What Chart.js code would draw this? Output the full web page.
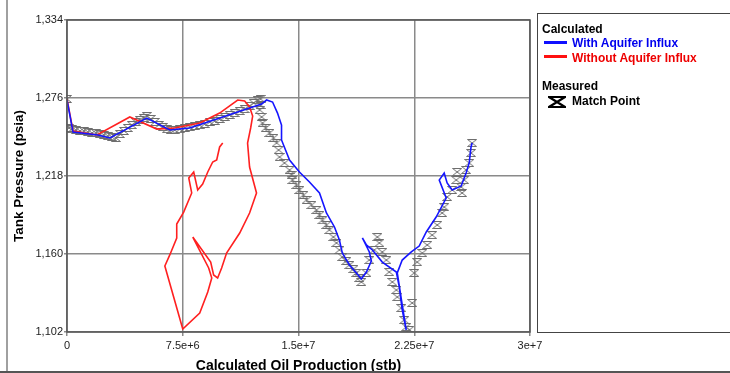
<!DOCTYPE html>
<html>
<head>
<meta charset="utf-8">
<script src="https://cdn.jsdelivr.net/npm/chart.js@4.4.1/dist/chart.umd.min.js"></script>
<style>
body { margin: 0; background: #fff; }
#wrap { position: relative; width: 730px; height: 373px; overflow: hidden; font-family: "Liberation Sans", Arial, sans-serif; }
#frameL { position: absolute; left: 6px; top: 0; width: 2px; height: 373px; background: #a0a0a0; }
#frameB { position: absolute; left: 0; top: 371px; width: 730px; height: 2px; background: #555; }
#legend { position: absolute; left: 537px; top: 13px; width: 200px; height: 320px; border: 1.5px solid #444; box-sizing: border-box; }
#legend div { position: absolute; font-weight: bold; font-size: 12px; line-height: 14px; white-space: nowrap; }
#legend .swatch { height: 3px; width: 23px; }
</style>
</head>
<body>
<div id="wrap">
  <canvas id="tankChart" width="730" height="373"></canvas>
  <div id="frameL"></div>
  <div id="frameB"></div>
  <div id="legend">
    <div style="left:4px;top:8px;color:#000">Calculated</div>
    <div class="swatch" style="left:6px;top:27px;background:#1010ff"></div>
    <div style="left:34px;top:22px;color:#0000ee">With Aquifer Influx</div>
    <div class="swatch" style="left:6px;top:41px;background:#ff1010"></div>
    <div style="left:34px;top:37px;color:#ee0000">Without Aquifer Influx</div>
    <div style="left:4px;top:65px;color:#000">Measured</div>
    <svg style="position:absolute;left:10px;top:82px" width="18" height="12" viewBox="0 0 18 12">
      <path d="M1 1 H17 L1 11 H17 Z" fill="none" stroke="#000" stroke-width="2.2"/>
    </svg>
    <div style="left:34px;top:80px;color:#000">Match Point</div>
  </div>
</div>
<script>
// tick labels
var xTickLabels = ["0", "7.5e+6", "1.5e+7", "2.25e+7", "3e+7"];
var yTickLabels = ["1,102", "1,160", "1,218", "1,276", "1,334"];

// cumulative oil production in millions of stb, tank pressure in psia
var withAquiferX = [0, 0.39, 2.00, 2.78, 5.17, 6.66, 7.95, 10.09, 11.83, 12.61, 12.93, 13.32, 13.64, 13.90, 13.90,
    14.42, 15.06, 15.71, 16.36, 16.81, 17.33, 17.65, 17.84, 18.30, 18.75, 19.07, 19.40, 19.72, 19.59, 19.14,
    19.40, 19.79, 20.43, 21.34, 21.53, 21.72, 21.98, 21.72, 21.40, 21.72, 22.31, 22.82, 23.28, 23.92, 24.57,
    24.12, 24.44, 24.63, 24.96, 25.54, 25.86, 26.06, 26.18, 26.25];
var withAquiferP = [1274.5, 1250.7, 1248.5, 1246.3, 1261.1, 1252.2, 1253.7, 1261.9, 1268.6, 1271.5, 1274.5, 1273.0, 1264.8, 1255.9, 1244.8,
    1229.9, 1221.0, 1213.5, 1205.4, 1190.5, 1180.1, 1170.4, 1160.7, 1151.8, 1145.9, 1141.4, 1146.6, 1154.8, 1161.5, 1171.9,
    1166.7, 1163.0, 1154.0, 1146.6, 1135.5, 1118.4, 1103.5, 1122.1, 1145.9, 1155.5, 1161.5, 1165.9, 1176.4, 1187.5, 1201.6,
    1215.0, 1220.2, 1212.8, 1207.6, 1210.6, 1220.2, 1227.7, 1239.6, 1242.5];

var withoutAquiferX = [0, 0.39, 1.94, 4.07, 5.82, 6.98, 8.60, 9.89, 11.06, 11.51, 11.83, 12.03, 11.90, 11.70, 11.83,
    12.28, 11.83, 11.19, 10.34, 10.02, 9.76, 9.50, 9.31, 8.15, 9.18, 9.38, 9.12, 8.60, 7.50, 6.34,
    6.66, 7.11, 7.11, 7.56, 8.08, 7.89, 8.21, 8.47, 8.79, 9.12, 9.44, 9.70, 9.89, 10.09];
var withoutAquiferP = [1275.3, 1251.5, 1248.5, 1261.9, 1252.9, 1253.7, 1257.4, 1264.8, 1274.5, 1273.8, 1269.3, 1262.6, 1253.7, 1242.5, 1224.7,
    1205.4, 1190.5, 1175.6, 1160.7, 1149.6, 1142.2, 1144.4, 1154.0, 1172.6, 1149.6, 1142.2, 1131.7, 1116.1, 1104.2, 1151.1,
    1159.3, 1171.9, 1182.3, 1191.2, 1205.4, 1216.5, 1221.0, 1207.6, 1212.0, 1221.0, 1228.4, 1229.9, 1239.6, 1242.5];

var measuredX = [0, 0.13, 0.32, 0.58, 0.84, 1.10, 1.36, 1.62, 1.88, 2.13, 2.39, 2.65, 2.91, 3.17, 3.43,
    3.69, 3.94, 4.20, 4.46, 4.72, 4.98, 5.17, 5.43, 5.69, 5.95, 6.21, 6.47, 6.72, 6.98, 7.31,
    7.63, 7.95, 8.28, 8.60, 8.92, 9.25, 9.57, 9.89, 10.22, 10.54, 10.86, 11.19, 11.51, 11.83, 12.09,
    12.35, 12.54, 12.54, 12.48, 12.61, 12.67, 12.87, 13.12, 13.38, 13.58, 13.71, 13.77, 14.09, 14.42, 14.55,
    14.61, 14.87, 15.06, 15.32, 15.52, 15.84, 16.16, 16.36, 16.55, 16.81, 17.00, 17.26, 17.46, 17.65, 17.84,
    18.10, 18.30, 18.56, 18.75, 18.94, 19.07, 19.40, 19.59, 19.91, 20.11, 20.24, 20.43, 20.69, 20.88, 21.08,
    21.34, 21.40, 21.66, 21.85, 21.98, 22.18, 22.37, 22.50, 22.69, 23.02, 23.34, 23.66, 23.99, 24.31, 24.44,
    24.63, 24.96, 25.22, 25.28, 25.54, 25.60, 25.73, 25.86, 26.06, 26.18, 26.25];
var measuredP = [1275.3, 1253.7, 1252.9, 1252.2, 1251.5, 1251.5, 1250.7, 1250.0, 1250.0, 1249.2, 1248.5, 1247.7, 1247.0, 1246.3, 1249.2,
    1251.5, 1253.7, 1255.9, 1258.2, 1259.6, 1261.1, 1262.6, 1260.4, 1258.2, 1255.9, 1254.4, 1252.9, 1252.2, 1252.2, 1252.9,
    1253.7, 1254.4, 1255.2, 1255.9, 1256.7, 1258.2, 1258.9, 1260.4, 1261.9, 1263.4, 1264.8, 1266.3, 1267.8, 1270.1, 1272.3,
    1274.5, 1275.3, 1270.8, 1267.1, 1261.9, 1257.4, 1253.7, 1250.0, 1246.3, 1242.5, 1237.3, 1232.1, 1227.7, 1222.5, 1218.7,
    1215.0, 1211.3, 1207.6, 1203.9, 1200.2, 1196.4, 1192.7, 1189.0, 1185.1, 1181.6, 1177.8, 1172.6, 1168.2, 1163.0, 1157.8,
    1154.8, 1151.8, 1148.8, 1145.9, 1142.2, 1139.2, 1145.9, 1155.5, 1163.0, 1172.6, 1168.2, 1161.5, 1155.5, 1146.6, 1139.2,
    1133.2, 1128.0, 1119.8, 1110.9, 1105.7, 1103.5, 1123.6, 1145.9, 1154.0, 1160.7, 1166.7, 1174.1, 1181.6, 1190.5, 1194.9,
    1202.4, 1207.6, 1215.0, 1221.0, 1209.8, 1205.4, 1215.0, 1222.5, 1227.7, 1235.1, 1242.5];

function toPoints(xs, ys) {
    var pts = [];
    for (var i = 0; i < xs.length; ++i) {
        pts.push({ x: xs[i], y: ys[i] });
    }
    return pts;
}

/* hourglass marker used for the match points */
var marker = document.createElement("canvas");
marker.width = 10;
marker.height = 8;
var mctx = marker.getContext("2d");
mctx.strokeStyle = "#6e6e6e";
mctx.lineWidth = 1;
mctx.beginPath();
mctx.moveTo(0.5, 0.5); mctx.lineTo(9.5, 0.5); mctx.lineTo(0.5, 7.5); mctx.lineTo(9.5, 7.5); mctx.closePath();
mctx.stroke();

var framePlugin = {
    id: "frame",
    afterDraw: function (chart) {
        var a = chart.chartArea;
        var c = chart.ctx;
        c.save();
        c.strokeStyle = "#555";
        c.lineWidth = 1.5;
        c.strokeRect(a.left, a.top, a.right - a.left, a.bottom - a.top);
        c.restore();
    }
};

var font = "'Liberation Sans', Arial, sans-serif";

var ctx = document.getElementById("tankChart");
var tankChart = new Chart(ctx, {
    type: "scatter",
    data: {
        datasets: [{
            label: "With Aquifer Influx",
            data: toPoints(withAquiferX, withAquiferP),
            showLine: true,
            borderColor: "#1515ff",
            borderWidth: 1.6,
            pointRadius: 0,
            tension: 0
        }, {
            label: "Without Aquifer Influx",
            data: toPoints(withoutAquiferX, withoutAquiferP),
            showLine: true,
            borderColor: "#ff2020",
            borderWidth: 1.6,
            pointRadius: 0,
            tension: 0
        }, {
            label: "Match Point",
            data: toPoints(measuredX, measuredP),
            pointStyle: marker,
            pointRadius: 4
        }]
    },
    options: {
        responsive: false,
        animation: false,
        devicePixelRatio: 1,
        layout: { padding: { left: 0, top: 20, right: 200, bottom: 0 } },
        plugins: {
            legend: { display: false },
            tooltip: { enabled: false }
        },
        scales: {
            x: {
                type: "linear",
                min: 0,
                max: 30,
                afterFit: function (scale) { scale.height = 41; },
                border: { display: false },
                grid: { color: "#8a8a8a", lineWidth: 1.5, tickLength: 4, tickColor: "#8a8a8a" },
                ticks: {
                    stepSize: 7.5,
                    padding: 3,
                    maxRotation: 0,
                    color: "#222",
                    font: { family: font, size: 11 },
                    callback: function (v, i) { return xTickLabels[i]; }
                },
                title: {
                    display: true,
                    text: "Calculated Oil Production (stb)",
                    color: "#000",
                    padding: { top: 0, bottom: 0 },
                    font: { family: font, size: 14, weight: "bold", lineHeight: 1 }
                }
            },
            y: {
                min: 1102,
                max: 1334,
                afterFit: function (scale) { scale.width = 67; },
                border: { display: false },
                grid: { color: "#8a8a8a", lineWidth: 1.5, tickLength: 3, tickColor: "#8a8a8a" },
                ticks: {
                    stepSize: 58,
                    padding: 1,
                    color: "#222",
                    font: { family: font, size: 11 },
                    callback: function (v, i) { return yTickLabels[i]; }
                },
                title: {
                    display: true,
                    text: "Tank Pressure (psia)",
                    color: "#000",
                    padding: { top: 13, bottom: 0 },
                    font: { family: font, size: 13.5, weight: "bold", lineHeight: 1 }
                }
            }
        }
    },
    plugins: [framePlugin]
});
</script>
</body>
</html>
